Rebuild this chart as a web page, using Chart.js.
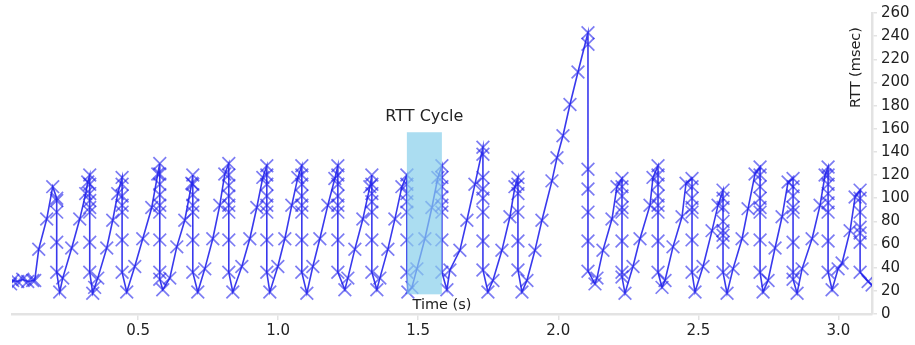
<!DOCTYPE html>
<html>
<head>
<meta charset="utf-8">
<script src="https://cdn.jsdelivr.net/npm/chart.js@4.4.1/dist/chart.umd.min.js"></script>
<style>
  html, body { margin: 0; padding: 0; background: #fff; }
  #wrap { width: 915px; height: 345px; }
</style>
</head>
<body>
<div id="wrap"><canvas id="rttChart" width="915" height="345"></canvas></div>
<script>
// send times (s), one entry per RTT sample; repeated times are the burst drops
const sampleTime = [
  0.045, 0.0525, 0.0704, 0.0882, 0.1061, 0.1239, 0.1311, 0.1454, 0.1739, 0.1954,
  0.2096, 0.2096, 0.2096, 0.2096, 0.2096,
  0.2204, 0.2311, 0.2632, 0.2918, 0.3132, 0.3204,
  0.3275, 0.3275, 0.3275, 0.3275, 0.3275, 0.3275, 0.3275, 0.3275,
  0.3382, 0.345, 0.3561, 0.3882, 0.4096, 0.4275,
  0.443, 0.443, 0.443, 0.443, 0.443, 0.443, 0.443,
  0.4596, 0.4882, 0.5168, 0.5489, 0.5704,
  0.5775, 0.5775, 0.5775, 0.5775, 0.5775, 0.5775, 0.5775, 0.5775, 0.5775,
  0.5882, 0.6132, 0.6382, 0.6668, 0.6918,
  0.6954, 0.6954, 0.6954, 0.6954, 0.6954, 0.6954, 0.6954,
  0.7132, 0.7382, 0.7668, 0.7918, 0.8096,
  0.8239, 0.8239, 0.8239, 0.8239, 0.8239, 0.8239, 0.8239, 0.8239,
  0.8382, 0.8704, 0.8989, 0.9239, 0.9454,
  0.9596, 0.9596, 0.9596, 0.9596, 0.9596, 0.9596, 0.9596, 0.9596,
  0.9704, 0.9989, 1.0239, 1.0489, 1.0704,
  1.0846, 1.0846, 1.0846, 1.0846, 1.0846, 1.0846, 1.0846, 1.0846,
  1.1025, 1.1239, 1.1489, 1.1775, 1.2025,
  1.2132, 1.2132, 1.2132, 1.2132, 1.2132, 1.2132, 1.2132, 1.2132,
  1.2382, 1.2489, 1.2739, 1.3025, 1.3275,
  1.3346, 1.3346, 1.3346, 1.3346, 1.3346, 1.3346, 1.3346,
  1.3525, 1.3632, 1.3918, 1.4168, 1.4418,
  1.4596, 1.4596, 1.4596, 1.4596, 1.4596, 1.4596, 1.4596,
  1.4632, 1.4775, 1.4954, 1.5239, 1.5489, 1.5704,
  1.5846, 1.5846, 1.5846, 1.5846, 1.5846, 1.5846, 1.5846, 1.5846,
  1.6025, 1.6132, 1.6489, 1.6739, 1.7025,
  1.7311, 1.7311, 1.7311, 1.7311, 1.7311, 1.7311, 1.7311, 1.7311,
  1.7489, 1.7668, 1.7989, 1.8275, 1.8454,
  1.8561, 1.8561, 1.8561, 1.8561, 1.8561, 1.8561,
  1.8704, 1.8882, 1.9168, 1.9418, 1.9775, 1.9954, 2.0168, 2.0418, 2.0704,
  2.1061, 2.1061, 2.1061, 2.1061, 2.1061, 2.1061, 2.1061,
  2.1311, 2.1382, 2.1596, 2.1918, 2.2096,
  2.2275, 2.2275, 2.2275, 2.2275, 2.2275, 2.2275, 2.2275, 2.2275,
  2.2382, 2.2668, 2.2918, 2.3275, 2.3382,
  2.3561, 2.3561, 2.3561, 2.3561, 2.3561, 2.3561, 2.3561, 2.3561,
  2.3704, 2.3811, 2.4096, 2.4418, 2.4561,
  2.4775, 2.4775, 2.4775, 2.4775, 2.4775, 2.4775, 2.4775,
  2.4882, 2.5168, 2.5489, 2.5704,
  2.5882, 2.5882, 2.5882, 2.5882, 2.5882, 2.5882, 2.5882, 2.5882,
  2.6025, 2.6239, 2.6561, 2.6775, 2.7025,
  2.7204, 2.7204, 2.7204, 2.7204, 2.7204, 2.7204, 2.7204, 2.7204,
  2.7311, 2.7489, 2.7739, 2.7989, 2.8204,
  2.8382, 2.8382, 2.8382, 2.8382, 2.8382, 2.8382, 2.8382, 2.8382,
  2.8525, 2.8704, 2.9061, 2.9346, 2.9525,
  2.9632, 2.9632, 2.9632, 2.9632, 2.9632, 2.9632, 2.9632, 2.9632,
  2.9775, 2.9989, 3.0132, 3.0418, 3.0596,
  3.0775, 3.0775, 3.0775, 3.0775, 3.0775, 3.0775, 3.0775,
  3.1061, 3.1204, 3.1489
];

// RTT in msec, same order as sampleTime
const rttMs = [
  26, 29, 28, 30, 28, 29, 29, 56, 82, 110,
  100, 98, 88, 62, 36,
  19, 31, 57, 82, 104, 114,
  120, 112, 104, 98, 92, 88, 62, 36,
  18, 23, 31, 57, 81, 104,
  118, 112, 102, 94, 88, 64, 36,
  19, 41, 65, 92, 121,
  130, 121, 112, 103, 94, 88, 64, 36, 30,
  21, 31, 58, 81, 113,
  120, 112, 103, 94, 88, 64, 36,
  19, 39, 65, 94, 121,
  130, 120, 111, 102, 94, 88, 64, 36,
  19, 41, 65, 92, 118,
  128, 120, 112, 102, 94, 88, 64, 36,
  19, 41, 65, 94, 118,
  128, 120, 112, 102, 94, 88, 64, 36,
  18, 41, 65, 94, 117,
  128, 120, 112, 102, 94, 88, 64, 36,
  21, 31, 56, 82, 110,
  120, 112, 104, 97, 88, 64, 36,
  21, 31, 56, 82, 110,
  120, 112, 104, 97, 88, 64, 36,
  19, 23, 39, 65, 92, 118,
  128, 118, 110, 101, 94, 88, 64, 36,
  21, 38, 55, 81, 112,
  144, 138, 118, 108, 100, 88, 63, 38,
  19, 29, 55, 84, 110,
  118, 112, 104, 88, 63, 38,
  19, 29, 55, 81, 115, 135, 154, 181, 209,
  243, 233, 125, 108, 88, 63, 37,
  26, 31, 55, 82, 110,
  117, 110, 102, 92, 88, 63, 36, 32,
  18, 41, 65, 94, 118,
  128, 120, 112, 102, 94, 88, 63, 36,
  23, 29, 58, 84, 113,
  117, 110, 100, 92, 88, 64, 36,
  19, 41, 72, 94,
  107, 100, 92, 80, 72, 68, 62, 36,
  18, 39, 65, 91, 121,
  127, 120, 110, 100, 92, 88, 64, 36,
  19, 29, 57, 84, 114,
  117, 110, 102, 92, 88, 62, 36, 30,
  18, 39, 65, 94, 120,
  127, 120, 112, 104, 96, 88, 63, 36,
  21, 39, 44, 72, 101,
  107, 100, 88, 75, 70, 62, 36,
  28, 25, 62
];

const xTickValues = [0.5, 1.0, 1.5, 2.0, 2.5, 3.0];
const yTickValues = [0, 20, 40, 60, 80, 100, 120, 140, 160, 180, 200, 220, 240, 260];

// highlighted RTT cycle (time range and rtt range)
const cycleStart = 1.4596;
const cycleEnd = 1.5846;
const cycleLow = 17;
const cycleHigh = 157;

const fontFamily = '"DejaVu Sans", sans-serif';
const textColor = '#222';
const axisColor = '#e3e3e3';

const points = sampleTime.map((t, i) => ({ x: t, y: rttMs[i] }));

// box, box label and axis titles drawn inside the plot
const overlayPlugin = {
    id: 'overlay',
    afterDatasetsDraw(chart) {
        const { ctx, chartArea, scales } = chart;
        const x = scales.x;
        const y = scales.y;
        const left = x.getPixelForValue(cycleStart);
        const right = x.getPixelForValue(cycleEnd);
        const top = y.getPixelForValue(cycleHigh);
        const bottom = y.getPixelForValue(cycleLow);

        ctx.save();
        ctx.fillStyle = 'rgba(135, 206, 235, 0.7)';
        ctx.fillRect(left, top, right - left, bottom - top);

        ctx.fillStyle = textColor;
        ctx.textAlign = 'center';
        ctx.textBaseline = 'middle';
        ctx.font = '16px ' + fontFamily;
        ctx.fillText('RTT Cycle', (left + right) / 2, top - 15);

        ctx.font = '14.5px ' + fontFamily;
        ctx.fillText('Time (s)', (chartArea.left + chartArea.right) / 2, chartArea.bottom - 9);

        ctx.translate(chartArea.right - 16, chartArea.top + 14);
        ctx.rotate(-Math.PI / 2);
        ctx.textAlign = 'right';
        ctx.fillText('RTT (msec)', 0, 0);
        ctx.restore();
    },
};

const ctx = document.getElementById('rttChart').getContext('2d');
new Chart(ctx, {
    type: 'scatter',
    data: {
        datasets: [
            {
                data: points,
                showLine: true,
                borderColor: 'rgba(35, 35, 235, 0.9)',
                borderWidth: 1.6,
                pointStyle: 'crossRot',
                pointRadius: 9,
                pointHoverRadius: 9,
                pointBorderColor: 'rgba(35, 35, 235, 0.6)',
                pointBackgroundColor: 'rgba(35, 35, 235, 0.6)',
                pointBorderWidth: 1.7,
            },
        ],
    },
    options: {
        responsive: false,
        animation: false,
        layout: {
            padding: { left: 12, top: 13, right: 0, bottom: 0 },
        },
        scales: {
            x: {
                type: 'linear',
                position: 'bottom',
                min: 0.05,
                max: 3.12,
                afterBuildTicks: (scale) => {
                    scale.ticks = xTickValues.map((v) => ({ value: v }));
                },
                afterFit: (scale) => {
                    scale.height = 31;
                },
                border: { color: axisColor, width: 2.5 },
                grid: {
                    drawOnChartArea: false,
                    color: axisColor,
                    lineWidth: 1.5,
                    tickLength: 6,
                },
                ticks: {
                    color: textColor,
                    padding: 2,
                    maxRotation: 0,
                    font: { family: fontFamily, size: 15 },
                    callback: (value) => value.toFixed(1),
                },
            },
            y: {
                position: 'right',
                min: 0,
                max: 260,
                afterBuildTicks: (scale) => {
                    scale.ticks = yTickValues.map((v) => ({ value: v }));
                },
                afterFit: (scale) => {
                    scale.width = 43;
                },
                border: { color: axisColor, width: 2.5 },
                grid: {
                    drawOnChartArea: false,
                    color: axisColor,
                    lineWidth: 1.5,
                    tickLength: 5,
                },
                ticks: {
                    color: textColor,
                    padding: 4,
                    font: { family: fontFamily, size: 15 },
                },
            },
        },
        plugins: {
            legend: { display: false },
            tooltip: { enabled: false },
        },
    },
    plugins: [overlayPlugin],
});
</script>
</body>
</html>
